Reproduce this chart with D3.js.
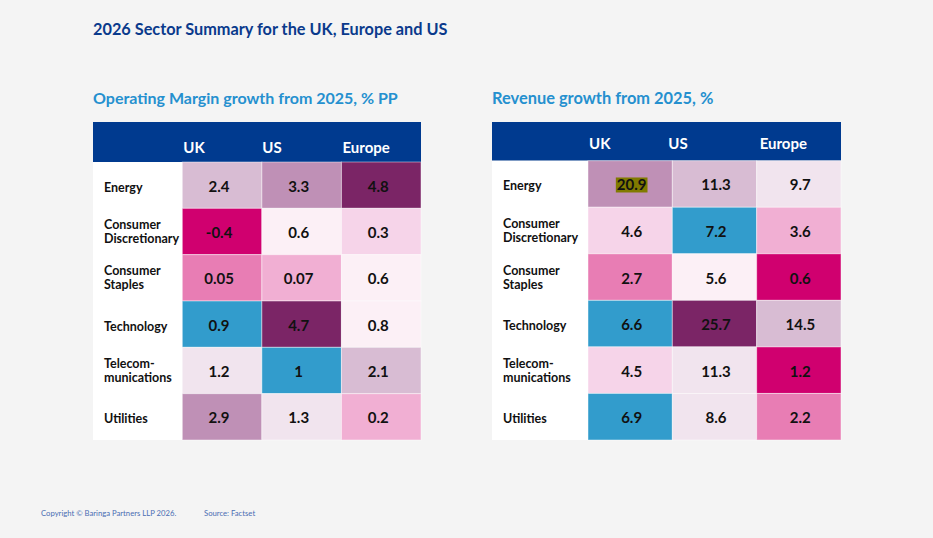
<!DOCTYPE html>
<html>
<head>
<meta charset="utf-8">
<script src="https://cdn.jsdelivr.net/npm/d3@7"></script>
<style>
  body { margin: 0; background: #f4f4f4; }
  svg { display: block; font-family: Lato, "Noto Sans", sans-serif; }
</style>
</head>
<body>
<svg id="chart" width="933" height="538"></svg>
<script>
// Sectors (rows) and regions (columns)
const sectors = ["Energy", "Consumer Discretionary", "Consumer Staples", "Technology", "Telecommunications", "Utilities"];
const sectorLines = [["Energy"], ["Consumer", "Discretionary"], ["Consumer", "Staples"], ["Technology"], ["Telecom-", "munications"], ["Utilities"]];
const regions = ["UK", "US", "Europe"];

// Operating margin growth from 2025, % PP (rows follow sectors, columns follow regions)
const marginValues = [
  [2.4, 3.3, 4.8],
  [-0.4, 0.6, 0.3],
  [0.05, 0.07, 0.6],
  [0.9, 4.7, 0.8],
  [1.2, 1, 2.1],
  [2.9, 1.3, 0.2],
];
// colour band of each cell, 0 = lowest (magenta) ... 9 = highest (purple), 5 = mid (blue)
const marginBands = [
  [7, 8, 9],
  [0, 4, 3],
  [1, 2, 4],
  [5, 9, 4],
  [6, 5, 7],
  [8, 6, 2],
];

// Revenue growth from 2025, %
const revenueValues = [
  [20.9, 11.3, 9.7],
  [4.6, 7.2, 3.6],
  [2.7, 5.6, 0.6],
  [6.6, 25.7, 14.5],
  [4.5, 11.3, 1.2],
  [6.9, 8.6, 2.2],
];
const revenueBands = [
  [8, 7, 6],
  [3, 5, 2],
  [1, 4, 0],
  [5, 9, 7],
  [3, 6, 0],
  [5, 6, 1],
];
// highlighted cell in the revenue table
const revenueHighlight = [["Energy", "UK"]];

const bandColor = d3.scaleOrdinal()
  .domain(d3.range(10))
  .range(["#d0006f", "#e87db4", "#f1afd3", "#f6d4e9", "#fcf0f6",
          "#329ccc", "#f1e4ee", "#d8bcd3", "#bf90b6", "#7b2566"]);

const svg = d3.select("#chart");

svg.append("text")
  .attr("x", 93).attr("y", 35)
  .attr("fill", "#0a3a8c")
  .style("font-size", "16.3px").style("font-weight", 700)
  .text("2026 Sector Summary for the UK, Europe and US");

function drawTable(opt) {
  const g = svg.append("g");

  g.append("text")
    .attr("x", opt.x0).attr("y", opt.titleY)
    .attr("fill", "#2590cf")
    .style("font-size", opt.titleSize).style("font-weight", 700)
    .text(opt.title);

  const x = d3.scaleBand().domain(regions).range([opt.colX, opt.x1]);
  const y = d3.scaleBand().domain(sectors).range([opt.headBottom, opt.bottom]);

  // header band
  g.append("rect")
    .attr("x", opt.x0).attr("y", opt.top)
    .attr("width", opt.x1 - opt.x0).attr("height", opt.headBottom - opt.top)
    .attr("fill", "#003a8f");

  g.selectAll(".head")
    .data(regions)
    .join("text")
    .attr("x", (d, i) => x(d) + opt.headDx[i])
    .attr("y", opt.headY)
    .attr("fill", "#fff")
    .style("font-size", "15px").style("font-weight", 700)
    .text(d => d);

  // label column
  g.append("rect")
    .attr("x", opt.x0).attr("y", opt.headBottom)
    .attr("width", opt.colX - opt.x0).attr("height", opt.bottom - opt.headBottom)
    .attr("fill", "#fff");

  const labels = g.selectAll(".label")
    .data(sectors)
    .join("text")
    .attr("fill", "#111")
    .style("font-size", "12.5px").style("font-weight", 700);
  labels.each(function (d, i) {
    const lines = sectorLines[i];
    const cy = y(d) + y.bandwidth() / 2;
    d3.select(this).selectAll("tspan")
      .data(lines)
      .join("tspan")
      .attr("x", opt.x0 + 11)
      .attr("y", (l, j) => lines.length === 1 ? cy + 6.5 : cy - 2.5 + j * 14)
      .text(l => l);
  });

  const cells = [];
  opt.values.forEach((row, i) => row.forEach((v, j) => {
    cells.push({ sector: sectors[i], region: regions[j], value: v, band: opt.bands[i][j] });
  }));

  g.selectAll(".cell")
    .data(cells)
    .join("rect")
    .attr("x", d => x(d.region))
    .attr("y", d => y(d.sector))
    .attr("width", x.bandwidth())
    .attr("height", y.bandwidth())
    .attr("fill", d => bandColor(d.band))
    .attr("stroke", "rgba(255,255,255,0.45)")
    .attr("stroke-width", 1);

  const vals = g.selectAll(".val")
    .data(cells)
    .join("text")
    .attr("x", d => x(d.region) + x.bandwidth() / 2 + opt.valDx)
    .attr("y", d => y(d.sector) + y.bandwidth() / 2 + 6.5)
    .attr("text-anchor", "middle")
    .attr("fill", "#111")
    .style("font-size", "15px").style("font-weight", 700)
    .text(d => String(d.value));

  // highlight boxes behind marked values
  (opt.highlight || []).forEach(([s, r]) => {
    const node = vals.filter(d => d.sector === s && d.region === r).node();
    const b = node.getBBox();
    g.insert("rect", () => node)
      .attr("x", b.x - 1).attr("y", b.y + 2)
      .attr("width", b.width + 2).attr("height", b.height - 3)
      .attr("fill", "#807a00");
  });
}

drawTable({
  title: "Operating Margin growth from 2025, % PP", titleSize: "16px",
  values: marginValues, bands: marginBands,
  x0: 93, x1: 421, colX: 182.3,
  titleY: 104, top: 122, headBottom: 162, bottom: 440,
  headY: 153, headDx: [1, 0.5, 1], valDx: -3,
});

drawTable({
  title: "Revenue growth from 2025, %", titleSize: "16.4px",
  values: revenueValues, bands: revenueBands, highlight: revenueHighlight,
  x0: 492, x1: 841, colX: 588,
  titleY: 104, top: 122, headBottom: 160.7, bottom: 440,
  headY: 148.5, headDx: [1, -4, 3], valDx: 1.5,
});

// footer
svg.append("text")
  .attr("x", 41).attr("y", 516)
  .attr("fill", "#4a6db3")
  .style("font-size", "7.7px")
  .text("Copyright © Baringa Partners LLP 2026.");
svg.append("text")
  .attr("x", 204).attr("y", 516)
  .attr("fill", "#4a6db3")
  .style("font-size", "7.7px")
  .text("Source: Factset");
</script>
</body>
</html>
